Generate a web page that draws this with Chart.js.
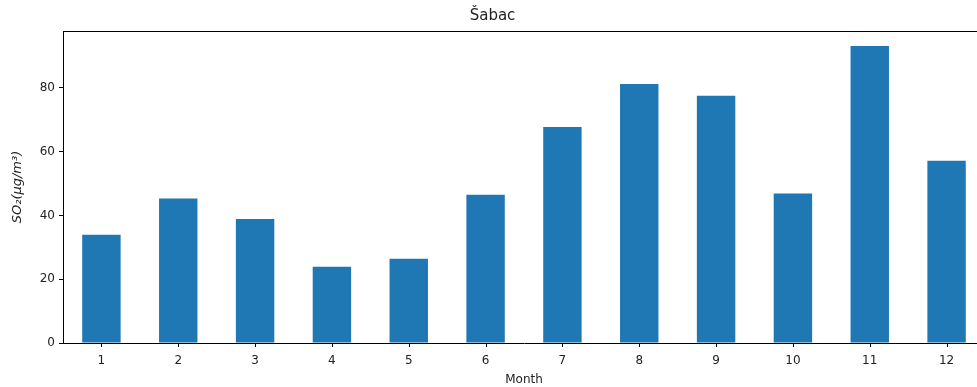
<!DOCTYPE html>
<html>
<head>
<meta charset="utf-8">
<script src="https://cdn.jsdelivr.net/npm/chart.js@4/dist/chart.umd.min.js"></script>
<style>
  html, body { margin: 0; padding: 0; background: #fff; overflow: hidden; }
  #wrap { position: relative; width: 1000px; height: 387px; }
</style>
</head>
<body>
<div id="wrap"><canvas id="chart"></canvas></div>
<script>
// monthly SO2 averages, Šabac
const months = ['1', '2', '3', '4', '5', '6', '7', '8', '9', '10', '11', '12'];
const so2 = [33.9, 45.3, 38.9, 23.9, 26.4, 46.5, 67.7, 81.2, 77.5, 46.9, 93.1, 57.1];
const yTicks = [0, 20, 40, 60, 80];
const yMax = 97.8;

const textColor = '#222';

// matplotlib style frame: top and right spines, x tick marks under each bar
const framePlugin = {
    id: 'frame',
    afterDraw(chart) {
        const a = chart.chartArea;
        const c = chart.ctx;
        const xs = chart.scales.x;
        c.save();
        c.strokeStyle = '#000';
        c.lineWidth = 1;
        c.beginPath();
        c.moveTo(a.left, a.top + 0.5);
        c.lineTo(a.right, a.top + 0.5);
        c.lineTo(a.right, a.bottom);
        xs.ticks.forEach((t, i) => {
            const px = Math.round(xs.getPixelForTick(i)) + 0.5;
            c.moveTo(px, a.bottom);
            c.lineTo(px, a.bottom + 4);
        });
        c.stroke();
        c.restore();
    }
};

new Chart(document.getElementById('chart'), {
    type: 'bar',
    data: {
        labels: months,
        datasets: [{
            label: 'SO2',
            data: so2,
            backgroundColor: '#1f77b4',
            borderWidth: 0,
            barPercentage: 0.5,
            categoryPercentage: 1.0
        }]
    },
    options: {
        responsive: true,
        maintainAspectRatio: false,
        animation: false,
        layout: { padding: { left: 0, right: 15, top: 0, bottom: 0 } },
        plugins: {
            legend: { display: false },
            tooltip: { enabled: false },
            title: {
                display: true,
                text: 'Šabac',
                color: textColor,
                font: { family: 'DejaVu Sans', size: 15, weight: 'normal' },
                padding: { top: 7, bottom: 6 }
            }
        },
        scales: {
            x: {
                offset: true,
                grid: { display: false, drawTicks: true, tickLength: 4 },
                border: { display: true, color: '#000', width: 1 },
                ticks: { color: textColor, font: { family: 'DejaVu Sans', size: 12 }, padding: 7, maxRotation: 0 },
                title: {
                    display: true,
                    text: 'Month',
                    color: textColor,
                    font: { family: 'DejaVu Sans', size: 12 },
                    padding: { top: 1, bottom: 0 }
                },
                afterFit(scale) { scale.height = 44; }
            },
            y: {
                min: 0,
                max: yMax,
                bounds: 'data',
                grid: { display: true, drawOnChartArea: false, drawTicks: true, tickLength: 4, color: '#000' },
                border: { display: true, color: '#000', width: 1 },
                ticks: { color: textColor, font: { family: 'DejaVu Sans', size: 12 }, padding: 4 },
                afterBuildTicks(scale) {
                    scale.ticks = yTicks.map(v => ({ value: v }));
                },
                title: {
                    display: true,
                    text: 'SO₂(μg/m³)',
                    color: textColor,
                    font: { family: 'DejaVu Sans', size: 13, style: 'italic' },
                    padding: { top: 10, bottom: 6 }
                },
                afterFit(scale) { scale.width = 63; }
            }
        }
    },
    plugins: [framePlugin]
});
</script>
</body>
</html>
